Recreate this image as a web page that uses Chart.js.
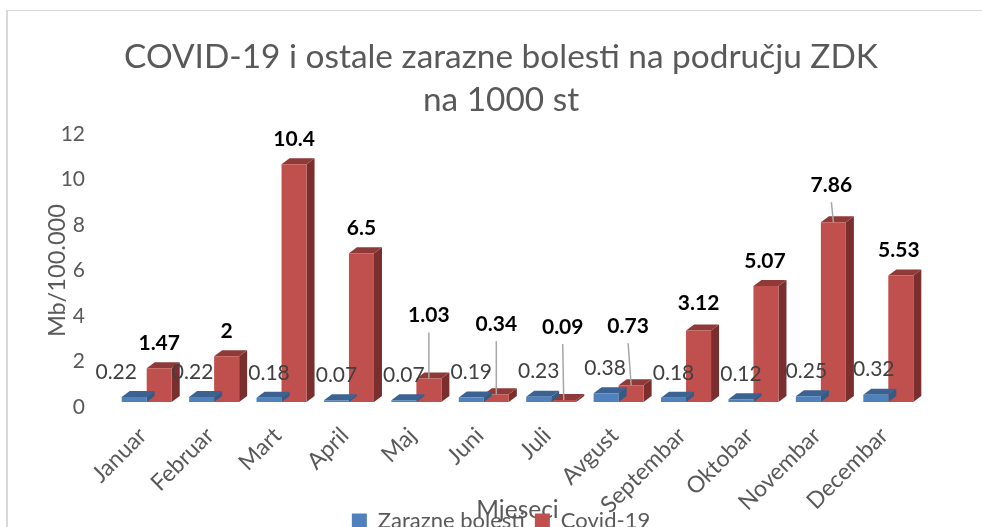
<!DOCTYPE html>
<html>
<head>
<meta charset="utf-8">
<title>COVID-19 i ostale zarazne bolesti</title>
<script src="https://cdn.jsdelivr.net/npm/chart.js@4"></script>
<style>
    html, body { margin: 0; padding: 0; background: #fff; overflow: hidden; }
    #frame { position: absolute; left: 6px; top: 10px; right: 0; bottom: 0; border-left: 2px solid #d9d9d9; border-top: 1px solid #d9d9d9; }
    #wrap { position: absolute; left: 0; top: 0; width: 982px; height: 542px; }
</style>
</head>
<body>
<div id="frame"></div>
<div id="wrap"><canvas id="chart"></canvas></div>
<script>
const months = ["Januar", "Februar", "Mart", "April", "Maj", "Juni", "Juli", "Avgust", "Septembar", "Oktobar", "Novembar", "Decembar"];
const zarazne = [0.22, 0.22, 0.18, 0.07, 0.07, 0.19, 0.23, 0.38, 0.18, 0.12, 0.25, 0.32];
const covid = [1.47, 2, 10.4, 6.5, 1.03, 0.34, 0.09, 0.73, 3.12, 5.07, 7.86, 5.53];
const yTicks = [0, 2, 4, 6, 8, 10, 12];

// label nudges in px, excel moved a few of them by hand
const blueNudgeX = [-18, -9, 0, 0, 0, 0, 0, -1, 0, 0, -2, -2];
const redLift = [25, 25, 25, 25, 63, 70, 73, 59, 27, 25, 37, 25];
const redNudgeX = [0, 0, 0, 0, 0, 0, -1, -3, 0, -1, -2, -2];
const leaders = [false, false, false, false, true, true, true, true, false, false, true, false];

const FONT = "Lato, 'Open Sans', sans-serif";
const GREY = "#595959";
const DEPTH_X = 8;
const DEPTH_Y = 6;

// fake the excel 3D look: top and side faces hung on each bar element
const bars3d = {
    id: "bars3d",
    beforeDatasetDraw(chart, args) {
        const ds = chart.data.datasets[args.index];
        const ctx = chart.ctx;
        chart.getDatasetMeta(args.index).data.forEach((bar) => {
            const left = bar.x - bar.width / 2;
            const right = bar.x + bar.width / 2;
            ctx.fillStyle = ds.sideColor;
            ctx.beginPath();
            ctx.moveTo(right, bar.y);
            ctx.lineTo(right + DEPTH_X, bar.y - DEPTH_Y);
            ctx.lineTo(right + DEPTH_X, bar.base - DEPTH_Y);
            ctx.lineTo(right, bar.base);
            ctx.closePath();
            ctx.fill();
            ctx.fillStyle = ds.topColor;
            ctx.beginPath();
            ctx.moveTo(left, bar.y);
            ctx.lineTo(left + DEPTH_X, bar.y - DEPTH_Y);
            ctx.lineTo(right + DEPTH_X, bar.y - DEPTH_Y);
            ctx.lineTo(right, bar.y);
            ctx.closePath();
            ctx.fill();
        });
    },
};

const valueLabels = {
    id: "valueLabels",
    afterDatasetsDraw(chart) {
        const ctx = chart.ctx;
        ctx.save();
        ctx.textAlign = "center";
        ctx.textBaseline = "middle";

        chart.getDatasetMeta(0).data.forEach((bar, i) => {
            ctx.font = "21px " + FONT;
            ctx.fillStyle = "#404040";
            ctx.fillText(zarazne[i], bar.x + blueNudgeX[i], bar.y - 25);
        });

        chart.getDatasetMeta(1).data.forEach((bar, i) => {
            const labelX = bar.x + redNudgeX[i];
            const labelY = bar.y - redLift[i];
            if (leaders[i]) {
                ctx.strokeStyle = "#a6a6a6";
                ctx.lineWidth = 1.5;
                ctx.beginPath();
                ctx.moveTo(labelX, labelY + 17);
                ctx.lineTo(bar.x, bar.y);
                ctx.stroke();
            }
            ctx.font = "bold 21px " + FONT;
            ctx.fillStyle = "#000";
            ctx.fillText(covid[i], labelX, labelY);
        });
        ctx.restore();
    },
};

// x labels run down into the legend in the original, so let the axis box reach the canvas bottom
const axisOverLegend = {
    id: "axisOverLegend",
    afterLayout(chart) {
        chart.scales.x.bottom = chart.height;
    },
};

new Chart(document.getElementById("chart"), {
    type: "bar",
    data: {
        labels: months,
        datasets: [
            {
                label: "Zarazne bolesti",
                data: zarazne,
                backgroundColor: "#4F81BD",
                topColor: "#3B6290",
                sideColor: "#345A85",
                yAxisID: "yBars",
                categoryPercentage: 0.742,
                barPercentage: 1,
            },
            {
                label: "Covid-19",
                data: covid,
                backgroundColor: "#C0504D",
                topColor: "#8E3A38",
                sideColor: "#7A2F2E",
                yAxisID: "yBars",
                categoryPercentage: 0.742,
                barPercentage: 1,
            },
        ],
    },
    plugins: [bars3d, valueLabels, axisOverLegend],
    options: {
        responsive: true,
        maintainAspectRatio: false,
        animation: false,
        layout: { padding: { left: 20, right: 0, top: 0, bottom: 0 } },
        plugins: {
            title: {
                display: true,
                text: ["COVID-19 i ostale zarazne bolesti na području ZDK", "na 1000 st"],
                color: GREY,
                font: { family: FONT, size: 33.4, weight: "normal", lineHeight: 1.29 },
                padding: { top: 36, bottom: 12 },
            },
            legend: {
                position: "bottom",
                labels: {
                    color: GREY,
                    font: { family: FONT, size: 22 },
                    boxWidth: 15,
                    boxHeight: 15,
                    padding: 10,
                },
            },
            tooltip: { enabled: false },
        },
        scales: {
            x: {
                grid: { display: false },
                border: { display: false },
                ticks: {
                    color: GREY,
                    font: { family: FONT, size: 23 },
                    minRotation: 45,
                    maxRotation: 45,
                    autoSkip: false,
                    padding: 7,
                    labelOffset: -4,
                },
                title: {
                    display: true,
                    text: "Mjeseci",
                    color: GREY,
                    font: { family: FONT, size: 24.5 },
                    padding: { top: 0, bottom: 17 },
                },
                afterFit(scale) {
                    scale.height = 93;
                },
            },
            // only carries the printed tick labels, zero sits 5px under the bar floor
            y: {
                min: 0,
                max: 12,
                grid: { display: false },
                border: { display: false },
                afterBuildTicks(scale) {
                    scale.ticks = yTicks.map((v) => ({ value: v }));
                },
                ticks: {
                    color: GREY,
                    font: { family: FONT, size: 21 },
                    padding: 20,
                },
                title: {
                    display: true,
                    text: "Mb/100.000",
                    color: GREY,
                    font: { family: FONT, size: 23.6 },
                    padding: { top: 23, bottom: 0 },
                },
                afterFit(scale) {
                    scale.width = 93;
                },
            },
            // hidden axis the bars hang on, its width keeps the plot away from the right edge
            yBars: {
                position: "right",
                min: -0.22,
                max: 11.71,
                grid: { display: false },
                border: { display: false },
                ticks: { display: false },
                afterFit(scale) {
                    scale.width = 60;
                },
            },
        },
    },
});
</script>
</body>
</html>
